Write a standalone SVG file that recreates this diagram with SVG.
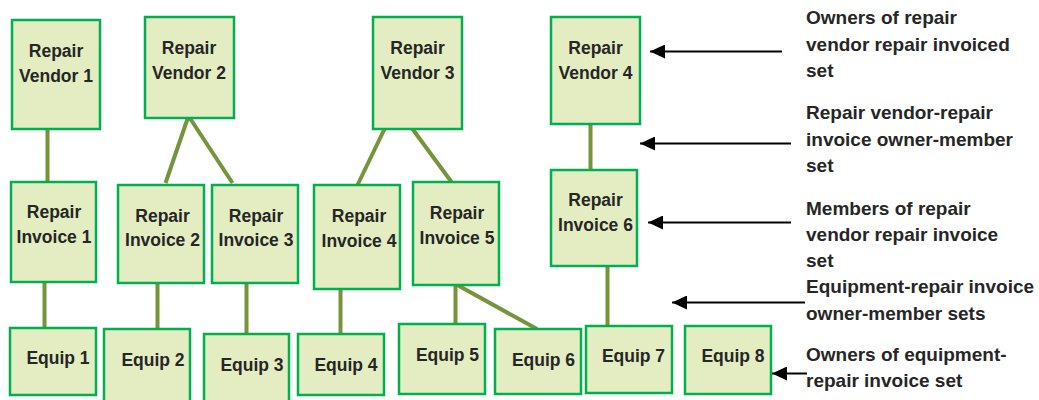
<svg xmlns="http://www.w3.org/2000/svg" width="1039" height="400" viewBox="0 0 1039 400">
<style>
.box{fill:#E4EDC2;stroke:#00B050;stroke-width:2.5}
.t{font-family:"Liberation Sans",Arial,sans-serif;font-weight:bold;font-size:17.5px;fill:#262626;text-anchor:middle}
.lbl{font-family:"Liberation Sans",Arial,sans-serif;font-weight:bold;font-size:19px;fill:#262626}
.c{stroke:#77933C;stroke-width:4;fill:none}
.a{stroke:#000;stroke-width:2.2;fill:none;marker-end:url(#ah)}
</style>
<defs>
<marker id="ah" markerUnits="userSpaceOnUse" markerWidth="16" markerHeight="14" refX="15" refY="7" orient="auto">
<path d="M0,0 L15,7 L0,14 Z" fill="#000"/>
</marker>
</defs>
<rect width="1039" height="400" fill="#fff"/>
<g id="connectors">
<line class="c" x1="47.5" y1="129" x2="47.5" y2="182"/>
<line class="c" x1="188.5" y1="116" x2="165.5" y2="183"/>
<line class="c" x1="188.5" y1="116" x2="232.5" y2="183"/>
<line class="c" x1="384.5" y1="129" x2="357" y2="186"/>
<line class="c" x1="412.5" y1="129" x2="451.5" y2="182"/>
<line class="c" x1="590.5" y1="118" x2="590.5" y2="171"/>
<line class="c" x1="44.5" y1="282" x2="44.5" y2="330"/>
<line class="c" x1="157.5" y1="283" x2="157.5" y2="330"/>
<line class="c" x1="246.5" y1="283" x2="246.5" y2="334"/>
<line class="c" x1="340.5" y1="285" x2="340.5" y2="334"/>
<line class="c" x1="455.5" y1="284" x2="455.5" y2="323"/>
<line class="c" x1="455.5" y1="284" x2="537" y2="329"/>
<line class="c" x1="607.5" y1="266" x2="607.5" y2="326"/>
</g>
<g id="rv1"><rect class="box" x="12" y="20" width="88" height="109"/><text class="t" x="56" y="57">Repair</text><text class="t" x="56" y="81.5">Vendor 1</text></g>
<g id="rv2"><rect class="box" x="145" y="17" width="89" height="101"/><text class="t" x="189" y="54">Repair</text><text class="t" x="189" y="78.5">Vendor 2</text></g>
<g id="rv3"><rect class="box" x="373" y="17" width="89" height="112"/><text class="t" x="417.5" y="54">Repair</text><text class="t" x="417.5" y="78.5">Vendor 3</text></g>
<g id="rv4"><rect class="box" x="551" y="17" width="89" height="107"/><text class="t" x="595.5" y="54">Repair</text><text class="t" x="595.5" y="78.5">Vendor 4</text></g>
<g id="ri1"><rect class="box" x="11" y="182" width="85" height="100"/><text class="t" x="54" y="218">Repair</text><text class="t" x="54" y="243">Invoice 1</text></g>
<g id="ri2"><rect class="box" x="118" y="185" width="86" height="98"/><text class="t" x="162.5" y="221.5">Repair</text><text class="t" x="162.5" y="246">Invoice 2</text></g>
<g id="ri3"><rect class="box" x="212" y="185" width="86" height="98"/><text class="t" x="256" y="221.5">Repair</text><text class="t" x="256" y="246">Invoice 3</text></g>
<g id="ri4"><rect class="box" x="314" y="185" width="86" height="104"/><text class="t" x="359" y="222">Repair</text><text class="t" x="359" y="247">Invoice 4</text></g>
<g id="ri5"><rect class="box" x="413" y="182" width="86" height="103"/><text class="t" x="457" y="218.5">Repair</text><text class="t" x="457" y="243.5">Invoice 5</text></g>
<g id="ri6"><rect class="box" x="551" y="170" width="86" height="96"/><text class="t" x="595.5" y="206">Repair</text><text class="t" x="595.5" y="230.5">Invoice 6</text></g>
<g id="e1"><rect class="box" x="10" y="328" width="86" height="67"/><text class="t" x="58" y="364">Equip 1</text></g>
<g id="e2"><rect class="box" x="104" y="329" width="86" height="75"/><text class="t" x="153" y="365.5">Equip 2</text></g>
<g id="e3"><rect class="box" x="204" y="334" width="85" height="70"/><text class="t" x="252" y="371">Equip 3</text></g>
<g id="e4"><rect class="box" x="298" y="334" width="86" height="61"/><text class="t" x="346" y="371">Equip 4</text></g>
<g id="e5"><rect class="box" x="399" y="324" width="86" height="70"/><text class="t" x="447.5" y="361">Equip 5</text></g>
<g id="e6"><rect class="box" x="495" y="329" width="86" height="65"/><text class="t" x="543.5" y="366">Equip 6</text></g>
<g id="e7"><rect class="box" x="586" y="326" width="86" height="67"/><text class="t" x="633.5" y="361.5">Equip 7</text></g>
<g id="e8"><rect class="box" x="685" y="326" width="86" height="68"/><text class="t" x="733" y="361.5">Equip 8</text></g>
<g id="arrows">
<line class="a" x1="782" y1="51.5" x2="650" y2="51.5"/>
<line class="a" x1="791" y1="143.5" x2="640" y2="143.5"/>
<line class="a" x1="791" y1="222.5" x2="648" y2="222.5"/>
<line class="a" x1="805" y1="302.5" x2="672" y2="302.5"/>
<line class="a" x1="807" y1="373.5" x2="772" y2="373.5"/>
</g>
<g id="labels">
<text class="lbl" x="806" y="24">Owners of repair</text>
<text class="lbl" x="806" y="51">vendor repair invoiced</text>
<text class="lbl" x="806" y="77">set</text>
<text class="lbl" x="806" y="119">Repair vendor-repair</text>
<text class="lbl" x="806" y="146">invoice owner-member</text>
<text class="lbl" x="806" y="172">set</text>
<text class="lbl" x="806" y="215">Members of repair</text>
<text class="lbl" x="806" y="241">vendor repair invoice</text>
<text class="lbl" x="806" y="267">set</text>
<text class="lbl" x="806" y="293">Equipment-repair invoice</text>
<text class="lbl" x="806" y="320">owner-member sets</text>
<text class="lbl" x="806" y="361">Owners of equipment-</text>
<text class="lbl" x="806" y="387">repair invoice set</text>
</g>
</svg>
